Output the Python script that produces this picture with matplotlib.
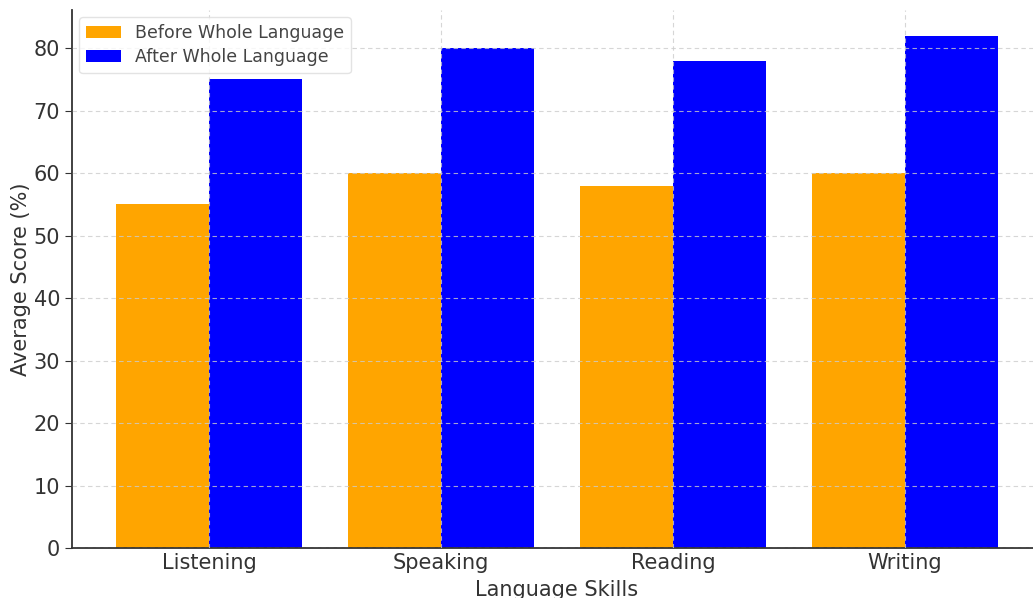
import matplotlib
matplotlib.use("Agg")
import matplotlib.pyplot as plt
import numpy as np

categories = ["Listening", "Speaking", "Reading", "Writing"]
before = [55, 60, 58, 60]
after = [75, 80, 78, 82]
series_labels = ["Before Whole Language", "After Whole Language"]

fig = plt.figure(figsize=(10.33, 5.98), dpi=100)
ax = fig.add_axes([72/1033, 1 - 548/598, (1042 - 72)/1033, (548 - 10)/598])

x = np.arange(len(categories))
w = 0.4
ax.bar(x - w/2, before, w, color="orange", label=series_labels[0])
ax.bar(x + w/2, after, w, color="blue", label=series_labels[1])

ax.set_xticks(x)
ax.set_xticklabels(categories)
ax.set_xlabel("Language Skills", fontsize=15, color="#333333", labelpad=5)
ax.set_ylabel("Average Score (%)", fontsize=15, color="#333333", labelpad=2)
ax.tick_params(axis="both", labelsize=15, colors="#333333", length=5)
ax.tick_params(axis="x", length=0)
ax.grid(True, linestyle=(0, (4, 3)), color="#cccccc", linewidth=0.8, alpha=0.8)
ax.set_axisbelow(False)
for s in ["top", "right"]:
    ax.spines[s].set_visible(False)
for s in ["left", "bottom"]:
    ax.spines[s].set_color("#333333")
    ax.spines[s].set_linewidth(1.3)

leg = ax.legend(loc="upper left", fontsize=12.5, frameon=True, labelcolor="#444444",
                borderaxespad=0.42, labelspacing=0.35)
leg.get_frame().set_edgecolor("#dddddd")

fig.savefig("out.png", dpi=100)
